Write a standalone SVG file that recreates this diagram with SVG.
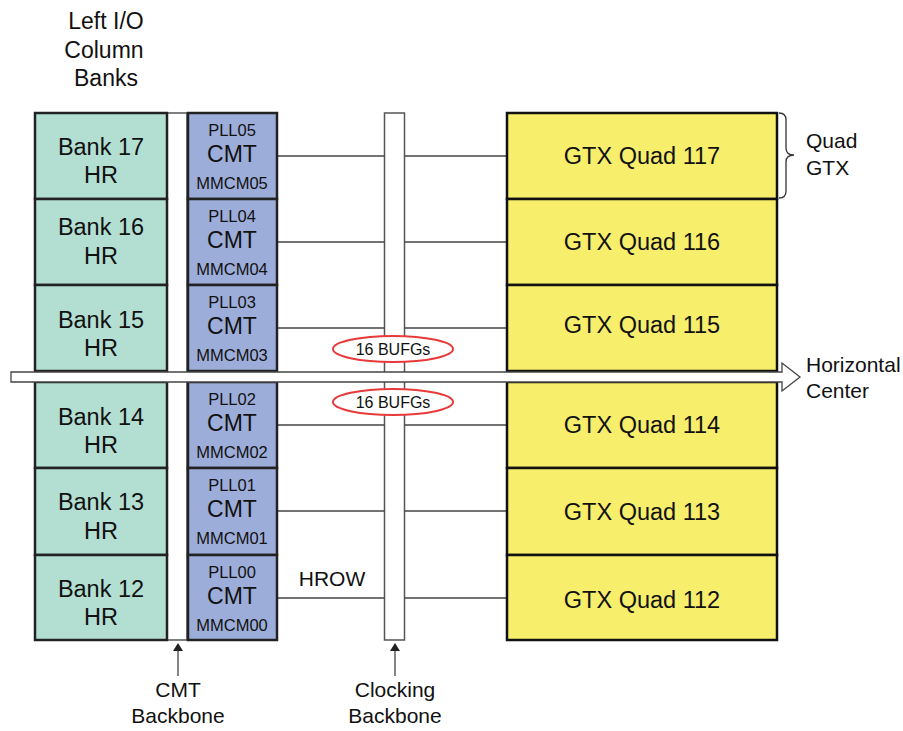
<svg xmlns="http://www.w3.org/2000/svg" width="903" height="731" viewBox="0 0 903 731">
<style>
text{font-family:"Liberation Sans",Arial,sans-serif;fill:#111;text-anchor:middle}
.bank{fill:#b3dfd3;stroke:#222;stroke-width:2.5}
.cmt{fill:#9dadd9;stroke:#222;stroke-width:2.5}
.gtx{fill:#f7ee6c;stroke:#111;stroke-width:2.5}
.bb{fill:#fff;stroke:#555;stroke-width:1.5}
.ln{stroke:#444;stroke-width:1.3;fill:none}
.big{font-size:23.5px}
.cm{font-size:23px}
.sm{font-size:16.5px}
.lab{font-size:21px}
.ttl{font-size:23px}
.st{text-anchor:start}
.bufg{fill:#fff;stroke:#e83a3a;stroke-width:2}
</style>
<defs>
<marker id="ah" markerWidth="8" markerHeight="10" refX="7" refY="5" orient="auto" markerUnits="userSpaceOnUse">
<path d="M0,0 L8,5 L0,10 Z" fill="#222"/>
</marker>
</defs>
<rect width="903" height="731" fill="#fff"/>
<g id="title">
<text class="ttl" x="106" y="29">Left I/O</text>
<text class="ttl" x="104" y="58">Column</text>
<text class="ttl" x="106" y="86">Banks</text>
</g>
<g id="backbones">
<rect id="cmt-backbone" class="bb" x="167" y="113" width="20" height="527"/>
<rect id="clock-backbone" class="bb" x="384.5" y="113" width="20" height="527"/>
</g>
<g id="connectors">
<line class="ln" x1="277" y1="156" x2="384.5" y2="156"/><line class="ln" x1="404.5" y1="156" x2="507" y2="156"/>
<line class="ln" x1="277" y1="242" x2="384.5" y2="242"/><line class="ln" x1="404.5" y1="242" x2="507" y2="242"/>
<line class="ln" x1="277" y1="328" x2="384.5" y2="328"/><line class="ln" x1="404.5" y1="328" x2="507" y2="328"/>
<line class="ln" x1="277" y1="425" x2="384.5" y2="425"/><line class="ln" x1="404.5" y1="425" x2="507" y2="425"/>
<line class="ln" x1="277" y1="511" x2="384.5" y2="511"/><line class="ln" x1="404.5" y1="511" x2="507" y2="511"/>
<line class="ln" x1="277" y1="598" x2="384.5" y2="598"/><line class="ln" x1="404.5" y1="598" x2="507" y2="598"/>
<line class="ln" x1="178" y1="676" x2="178" y2="644" stroke-width="1.5" marker-end="url(#ah)"/>
<line class="ln" x1="395" y1="676" x2="395" y2="644" stroke-width="1.5" marker-end="url(#ah)"/>
</g>
<g id="bank17"><rect class="bank" x="35" y="113" width="132" height="86"/><text class="big" x="101" y="155">Bank 17</text><text class="big" x="101" y="183">HR</text></g>
<g id="bank16"><rect class="bank" x="35" y="199" width="132" height="86"/><text class="big" x="101" y="235">Bank 16</text><text class="big" x="101" y="264">HR</text></g>
<g id="bank15"><rect class="bank" x="35" y="285" width="132" height="86"/><text class="big" x="101" y="328">Bank 15</text><text class="big" x="101" y="356">HR</text></g>
<g id="bank14"><rect class="bank" x="35" y="382" width="132" height="86"/><text class="big" x="101" y="425">Bank 14</text><text class="big" x="101" y="453">HR</text></g>
<g id="bank13"><rect class="bank" x="35" y="468" width="132" height="87"/><text class="big" x="101" y="510">Bank 13</text><text class="big" x="101" y="539">HR</text></g>
<g id="bank12"><rect class="bank" x="35" y="555" width="132" height="85"/><text class="big" x="101" y="597">Bank 12</text><text class="big" x="101" y="625">HR</text></g>

<g id="cmt5"><rect class="cmt" x="188" y="113" width="89" height="86"/><text class="sm" x="232" y="136">PLL05</text><text class="cm" x="232" y="162">CMT</text><text class="sm" x="232" y="189">MMCM05</text></g>
<g id="cmt4"><rect class="cmt" x="188" y="199" width="89" height="86"/><text class="sm" x="232" y="222">PLL04</text><text class="cm" x="232" y="248">CMT</text><text class="sm" x="232" y="275">MMCM04</text></g>
<g id="cmt3"><rect class="cmt" x="188" y="285" width="89" height="86"/><text class="sm" x="232" y="308">PLL03</text><text class="cm" x="232" y="334">CMT</text><text class="sm" x="232" y="361">MMCM03</text></g>
<g id="cmt2"><rect class="cmt" x="188" y="382" width="89" height="86"/><text class="sm" x="232" y="405">PLL02</text><text class="cm" x="232" y="431">CMT</text><text class="sm" x="232" y="458">MMCM02</text></g>
<g id="cmt1"><rect class="cmt" x="188" y="468" width="89" height="87"/><text class="sm" x="232" y="491">PLL01</text><text class="cm" x="232" y="517">CMT</text><text class="sm" x="232" y="544">MMCM01</text></g>
<g id="cmt0"><rect class="cmt" x="188" y="555" width="89" height="85"/><text class="sm" x="232" y="578">PLL00</text><text class="cm" x="232" y="604">CMT</text><text class="sm" x="232" y="631">MMCM00</text></g>

<g id="gtx117"><rect class="gtx" x="507" y="113" width="270" height="86"/><text class="big" x="642" y="164">GTX Quad 117</text></g>
<g id="gtx116"><rect class="gtx" x="507" y="199" width="270" height="86"/><text class="big" x="642" y="250">GTX Quad 116</text></g>
<g id="gtx115"><rect class="gtx" x="507" y="285" width="270" height="86"/><text class="big" x="642" y="333">GTX Quad 115</text></g>
<g id="gtx114"><rect class="gtx" x="507" y="382" width="270" height="86"/><text class="big" x="642" y="433">GTX Quad 114</text></g>
<g id="gtx113"><rect class="gtx" x="507" y="468" width="270" height="87"/><text class="big" x="642" y="520">GTX Quad 113</text></g>
<g id="gtx112"><rect class="gtx" x="507" y="555" width="270" height="85"/><text class="big" x="642" y="608">GTX Quad 112</text></g>

<g id="horizontal-center">
<path d="M11,372 L782,372 L782,363 L800,377 L782,391 L782,382 L11,382 Z" fill="#fff" stroke="#444" stroke-width="1.3"/>
<text class="lab st" x="806" y="372">Horizontal</text>
<text class="lab st" x="806" y="398">Center</text>
</g>
<g id="bufg-top"><ellipse class="bufg" cx="393" cy="349" rx="60" ry="13"/><text x="393" y="355" style="font-size:16px">16 BUFGs</text></g>
<g id="bufg-bottom"><ellipse class="bufg" cx="393" cy="402" rx="60" ry="13"/><text x="393" y="408" style="font-size:16px">16 BUFGs</text></g>
<g id="quad-brace">
<path d="M779,113 Q786,113 786,120 L786,148 Q786,155 794,155 Q786,155 786,162 L786,191 Q786,198 779,198" fill="none" stroke="#333" stroke-width="1.3"/>
<text class="lab st" x="806" y="148">Quad</text>
<text class="lab st" x="806" y="175">GTX</text>
</g>
<g id="labels">
<text class="lab" x="332" y="586">HROW</text>
<text class="lab" x="178" y="697">CMT</text>
<text class="lab" x="178" y="723">Backbone</text>
<text class="lab" x="395" y="697">Clocking</text>
<text class="lab" x="395" y="723">Backbone</text>
</g>
</svg>
